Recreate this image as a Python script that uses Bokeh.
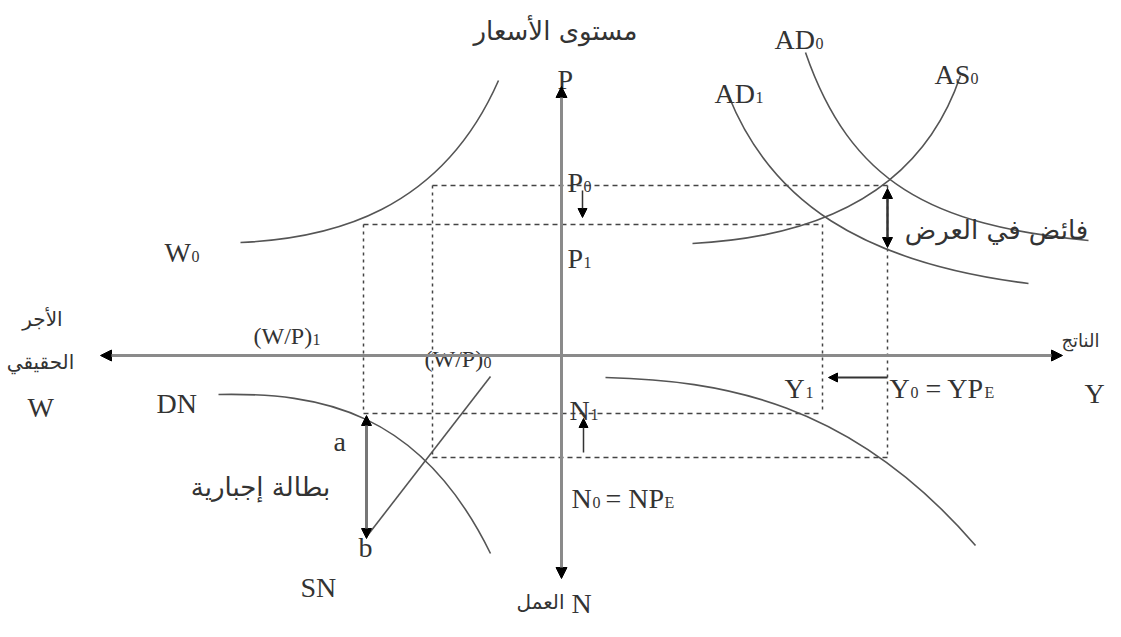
from bokeh.plotting import figure
from bokeh.models import Range1d, Arrow, NormalHead
from bokeh.embed import file_html
from bokeh.resources import INLINE
from bokeh.core.properties import value

# ---------------- data (diagram coordinates, y grows downward) ----------------
# axes
axis_x = 561          # vertical axis (P up, N down)
axis_y = 355          # horizontal axis (W left, Y right)
axis_left, axis_right = 100, 1062
axis_top, axis_bottom = 86, 578

# equilibrium levels
p0_level, p1_level = 185, 224          # price levels P0, P1
wp0_x, wp1_x = 432, 363                # real wage (W/P)0, (W/P)1
y0_x, y1_x = 887, 822                  # output Y0, Y1
n0_level, n1_level = 457, 413          # employment N0, N1

# curves as cubic Bezier: start, control 1, control 2, end
w0_curve = [(240, 242), (330, 238), (440, 212), (498, 80)]
as0_curve = [(692, 243), (790, 238), (915, 208), (960, 75)]
ad1_curve = [(728, 95), (770, 200), (860, 262), (1028, 283)]
ad0_curve = [(805, 52), (850, 182), (930, 225), (1088, 240)]
dn_curve = [(218, 394), (320, 392), (420, 410), (490, 553)]
prod_curve = [(605, 377), (720, 380), (850, 400), (975, 545)]
sn_line = [(367, 535), (490, 376)]

# labels: text, x (left), baseline y
latin_labels = ["P", "AD", "AD", "AS", "P", "P", "W", "W", "Y",
                "DN", "a", "b", "SN", "N", "N", "= NP", "Y", "Y", "= YP", "N"]
latin_x = [557, 774, 714, 934, 567, 567, 164, 27, 1084,
           156, 333, 358, 300, 569, 571, 605, 784, 889, 925, 571]
latin_y = [79, 39, 93, 74, 182, 258, 252, 407, 393,
           403, 441, 547, 587, 410, 498, 498, 388, 388, 388, 603]

ratio_labels = ["(W/P)", "(W/P)"]
ratio_x = [253, 424]
ratio_y = [335, 358]

sub_labels = ["0", "1", "0", "0", "1", "0", "1", "0", "1", "0", "E", "1", "0", "E"]
sub_x = [815, 755, 970, 583, 583, 191, 312, 483, 590, 592, 664, 805, 910, 984]
sub_y = [43, 97, 78, 186, 262, 256, 339, 362, 414, 502, 502, 392, 392, 392]

arabic_labels = ["مستوى الأسعار", "الأجر", "الحقيقي", "الناتج", "بطالة إجبارية",
                 "العمل", "فائض في العرض"]
arabic_x = [555, 42, 40, 1080, 260, 540, 996]
arabic_y = [30, 318, 361, 340, 486, 601, 229]
arabic_size = ["26px", "20px", "20px", "18px", "26px", "20px", "26px"]

INK = "#555555"
AXIS = "#8a8a8a"
W, H = 1105, 621

p = figure(width=W, height=H, x_range=Range1d(0, W), y_range=Range1d(H, 0),
           output_backend="svg", toolbar_location=None, min_border=0,
           x_axis_location=None, y_axis_location=None)
p.grid.visible = False
p.outline_line_color = None
p.background_fill_color = "white"

# dashed guide lines
hx0 = [wp0_x, wp1_x, wp1_x, wp0_x]
hx1 = [y0_x, y1_x, y1_x, y0_x]
hy = [p0_level, p1_level, n1_level, n0_level]
p.segment(x0=hx0, y0=hy, x1=hx1, y1=hy, line_color="#444444", line_width=1.5, line_dash="5 4")
vx = [wp1_x, wp0_x, y1_x, y0_x]
vy0 = [p1_level, p0_level, p1_level, p0_level]
vy1 = [n1_level, n0_level, n1_level, n0_level]
p.segment(x0=vx, y0=vy0, x1=vx, y1=vy1, line_color="#444444", line_width=1.5, line_dash="3 4")

# curves
for c in [w0_curve, as0_curve, ad1_curve, ad0_curve, dn_curve, prod_curve]:
    p.bezier(x0=[c[0][0]], y0=[c[0][1]], cx0=[c[1][0]], cy0=[c[1][1]],
             cx1=[c[2][0]], cy1=[c[2][1]], x1=[c[3][0]], y1=[c[3][1]],
             line_color=INK, line_width=1.6)
p.segment(x0=[sn_line[0][0]], y0=[sn_line[0][1]], x1=[sn_line[1][0]], y1=[sn_line[1][1]],
          line_color=INK, line_width=1.6)

# axes with arrow heads
def head(s=11):
    return NormalHead(size=s, fill_color="black", line_color="black")

p.add_layout(Arrow(start=head(), end=head(), x_start=axis_x, y_start=axis_bottom,
                   x_end=axis_x, y_end=axis_top, line_color=AXIS, line_width=3))
p.add_layout(Arrow(start=head(), end=head(), x_start=axis_right, y_start=axis_y,
                   x_end=axis_left, y_end=axis_y, line_color=AXIS, line_width=3))

# small shift arrows
p.add_layout(Arrow(end=head(9), x_start=582, y_start=190, x_end=582, y_end=217,
                   line_color="#333333", line_width=1.5))
p.add_layout(Arrow(end=head(9), x_start=583, y_start=452, x_end=583, y_end=418,
                   line_color="#333333", line_width=1.5))
p.add_layout(Arrow(end=head(9), x_start=y0_x, y_start=377, x_end=y1_x + 6, y_end=377,
                   line_color="#333333", line_width=2))
p.add_layout(Arrow(start=head(10), end=head(10), x_start=y0_x, y_start=p0_level + 3,
                   x_end=y0_x, y_end=247, line_color="#333333", line_width=2.5))
p.add_layout(Arrow(start=head(10), end=head(10), x_start=366, y_start=n1_level + 2,
                   x_end=366, y_end=538, line_color="#777777", line_width=3))

# texts
p.text(x=latin_x, y=latin_y, text=latin_labels, text_font=value("Liberation Serif"),
       text_font_size="28px", text_color="#333333", text_baseline="alphabetic", text_align="left")
p.text(x=ratio_x, y=ratio_y, text=ratio_labels, text_font=value("Liberation Serif"),
       text_font_size="24px", text_color="#333333", text_baseline="alphabetic", text_align="left")
p.text(x=sub_x, y=sub_y, text=sub_labels, text_font=value("Liberation Serif"),
       text_font_size="16px", text_color="#333333", text_baseline="alphabetic", text_align="left")
for lab, ax_, ay_, sz in zip(arabic_labels, arabic_x, arabic_y, arabic_size):
    p.text(x=[ax_], y=[ay_], text=[lab], text_font=value("DejaVu Sans"),
           text_font_size=sz, text_color="#333333", text_baseline="alphabetic",
           text_align="center")

open("out.html", "w").write(file_html(p, INLINE))
